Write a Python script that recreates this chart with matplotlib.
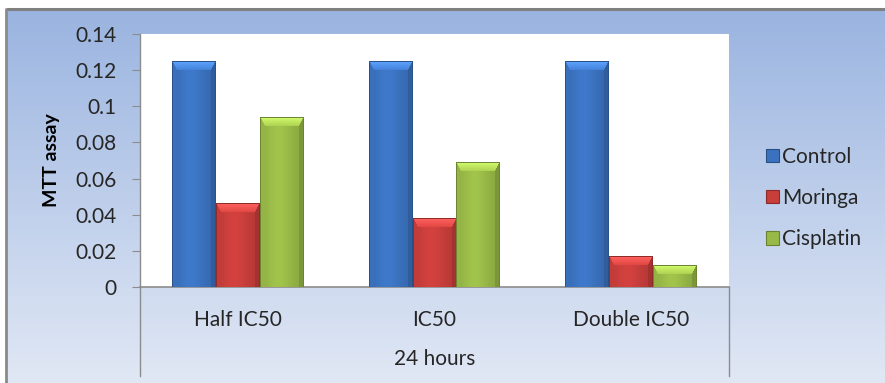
import numpy as np
import matplotlib
matplotlib.use("Agg")
import matplotlib.pyplot as plt
from matplotlib.colors import to_rgb
from matplotlib.patches import Patch

plt.rcParams['font.family'] = ['Lato', 'DejaVu Sans']

# ---- data ----
categories = ["Half IC50", "IC50", "Double IC50"]
group_label = "24 hours"
series_names = ["Control", "Moringa", "Cisplatin"]
control = [0.125, 0.125, 0.125]
moringa = [0.046, 0.038, 0.017]
cisplatin = [0.094, 0.069, 0.012]
yticks = [0, 0.02, 0.04, 0.06, 0.08, 0.1, 0.12, 0.14]
ytick_labels = ["0", "0.02", "0.04", "0.06", "0.08", "0.1", "0.12", "0.14"]

series_values = [control, moringa, cisplatin]
base_colors = ["#3b72bf", "#c73e3b", "#98b947"]
text_color = "#262626"

W, H = 885, 383
fig = plt.figure(figsize=(W / 100, H / 100), dpi=100)
fig.patch.set_facecolor("white")

# ---- background panel with vertical gradient ----
bg = fig.add_axes([0, 0, 1, 1], zorder=0)
bg.set_xlim(0, W)
bg.set_ylim(H, 0)
bg.axis("off")
top_c = np.array(to_rgb("#9ab4e0"))
bot_c = np.array(to_rgb("#e1e8f5"))
t = np.linspace(0, 1, 256)[:, None, None]
grad = top_c * (1 - t) + bot_c * t
grad = np.repeat(grad, 2, axis=1)
bg.imshow(grad, extent=[6, W, H, 9], aspect="auto", interpolation="bilinear")
bg.plot([6, W], [8.5, 8.5], color="#808080", lw=2.2, solid_capstyle="butt")
bg.plot([5.5, 5.5], [8, H], color="#8a8a8a", lw=2.0, solid_capstyle="butt")

# ---- plot area ----
px_l, px_r, px_t, px_b = 140, 729, 34, 287
ax = fig.add_axes([px_l / W, (H - px_b) / H, (px_r - px_l) / W, (px_b - px_t) / H], zorder=2)
ax.set_facecolor("white")
ax.set_xlim(-0.5, 2.5)
ax.set_ylim(0, 0.14)
for s in ["top", "right"]:
    ax.spines[s].set_visible(False)
ax.spines["left"].set_color("#8c8c8c")
ax.spines["bottom"].set_color("#8c8c8c")
ax.spines["left"].set_linewidth(1.0)
ax.spines["bottom"].set_linewidth(1.2)
ax.set_yticks(yticks)
ax.set_yticklabels(ytick_labels, fontsize=15, color=text_color)
ax.tick_params(axis="y", direction="out", length=6, color="#8c8c8c", pad=11)
ax.set_xticks([])
ax.set_ylabel("MTT assay", fontsize=14, fontweight="bold", color="black", labelpad=11)

plot_h_px = px_b - px_t
cat_w_px = (px_r - px_l) / 3
bar_w = 0.224
offsets = [-bar_w, 0.0, bar_w]


def bar_image(color, wpx, hpx, bevel=9, side=5):
    """Bevelled bar face: shaded body with lighter top facet."""
    c = np.array(to_rgb(color))
    wpx = max(int(round(wpx)), 4)
    hpx = max(int(round(hpx)), 4)
    xs = np.linspace(0, 1, wpx)
    # horizontal shading: darker edges, brighter left-centre
    prof = 0.9 + 0.16 * np.exp(-((xs - 0.42) / 0.35) ** 2)
    img = np.ones((hpx, wpx, 3)) * c
    img = img * prof[None, :, None]
    d = min(bevel, hpx // 2, wpx // 2)
    rr, cc = np.mgrid[0:hpx, 0:wpx]
    top = (rr < d) & (cc * d >= rr * side) & ((wpx - 1 - cc) * d >= rr * side)
    left = (cc < side) & ~top
    right = (cc >= wpx - side) & ~top
    frac = rr / max(d, 1)
    light = np.clip(c * 1.25 + 0.08, 0, 1)
    mid = np.clip(c * 1.12, 0, 1)
    img[top] = light[None, :] * (1 - frac[top][:, None]) + mid[None, :] * frac[top][:, None]
    img[left] = np.clip(c * 0.98, 0, 1)
    img[right] = c * 0.82
    # thin darker outline
    edge = c * 0.72
    img[:, 0] = edge
    img[:, -1] = edge
    img[0, :] = edge
    return np.clip(img, 0, 1)


x = np.arange(len(categories))
for si, (vals, col) in enumerate(zip(series_values, base_colors)):
    for ci, v in enumerate(vals):
        x0 = x[ci] + offsets[si] - bar_w / 2
        x1 = x0 + bar_w
        img = bar_image(col, bar_w * cat_w_px, v / 0.14 * plot_h_px)
        ax.imshow(img, extent=[x0, x1, 0, v], aspect="auto",
                  interpolation="bilinear", zorder=3, origin="upper")
ax.set_xlim(-0.5, 2.5)
ax.set_ylim(0, 0.14)

# ---- multi-level category axis ----
for xx in (px_l, px_r):
    bg.plot([xx, xx], [px_b, 376], color="#8c8c8c", lw=1.0, zorder=3)
for ci, name in enumerate(categories):
    xc = px_l + cat_w_px * (ci + 0.5)
    bg.text(xc, 320, name, ha="center", va="center", fontsize=15, color=text_color)
bg.text((px_l + px_r) / 2, 359, group_label, ha="center", va="center",
        fontsize=15, color=text_color)

# ---- legend ----
handles = [Patch(facecolor=c, edgecolor=np.array(to_rgb(c)) * 0.7, linewidth=0.8)
           for c in base_colors]
leg = fig.legend(handles, series_names, loc="center left",
                 bbox_to_anchor=(766 / W, (H - 198) / H), frameon=False,
                 fontsize=15, handlelength=0.62, handleheight=0.62,
                 handletextpad=0.15, labelspacing=1.02, borderpad=0,
                 borderaxespad=0)
for txt in leg.get_texts():
    txt.set_color(text_color)

fig.savefig("out.png", dpi=100)
